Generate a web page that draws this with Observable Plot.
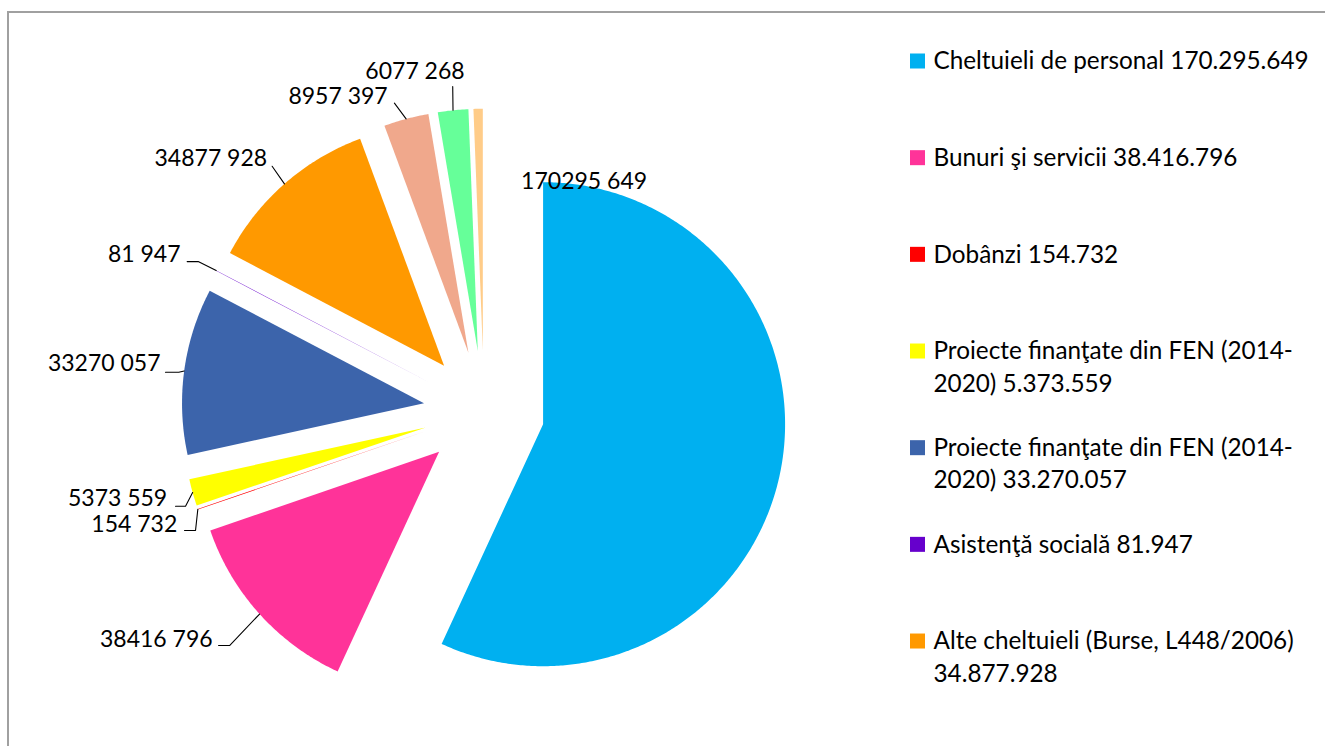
<!DOCTYPE html>
<html>
<head>
<meta charset="utf-8">
<script src="https://cdn.jsdelivr.net/npm/d3@7"></script>
<script src="https://cdn.jsdelivr.net/npm/@observablehq/plot@0.6"></script>
<style>
  html, body { margin: 0; padding: 0; background: #fff; overflow: hidden; }
  #wrap { position: relative; width: 1325px; height: 746px; overflow: hidden; }
  #frame { position: absolute; left: 7px; top: 11px; width: 1500px; height: 900px;
           border-left: 2px solid #a0a0a0; border-top: 2px solid #a0a0a0; pointer-events: none; }
</style>
</head>
<body>
<div id="wrap"><div id="chart"></div><div id="frame"></div></div>
<script>
// ---- data ----
const values = [170295649, 38416796, 154732, 5373559, 33270057, 81947, 34877928, 8957397, 6077268, 1850000];
const colors = ["#00B0F0", "#FF3399", "#FF0000", "#FFFF00", "#3C64AB", "#6600CC", "#FF9900", "#F0A88C", "#66FF99", "#FFCC88"];
const legendNames = [
  "Cheltuieli de personal",
  "Bunuri şi servicii",
  "Dobânzi",
  "Proiecte finanţate din FEN (2014-\n2020)",
  "Proiecte finanţate din FEN (2014-\n2020)",
  "Asistenţă socială",
  "Alte cheltuieli (Burse, L448/2006)\n"
];

// ---- layout ----
const W = 1325, H = 746;
const cx = 483.5, cy = 410.7, R = 242, explode = 60.5;
const FONT = "Lato, 'Open Sans', sans-serif", FS = 23, LFS = 24.3;
// label placement: point on slice arc (fraction "at"), leader bend, horizontal hook, text offset
const labelLayout = [
  {at: 0,  text: [41, -2], anchor: "middle"},
  {at: .5, bend: [-30, 31.5], hook: -11, text: [-6, -7.3], anchor: "end"},
  {at: .5, bend: [-2.3, 21.3], hook: -11, text: [-7.3, -6.7], anchor: "end"},
  {at: .5, bend: [-7.1, 13.75], hook: -10, text: [-8.3, -9], anchor: "end"},
  {at: .5, bend: [-5.4, 1.3], hook: -13.3, text: [-5, -9.7], anchor: "end"},
  {at: .5, bend: [-18, -9], hook: -11, text: [-6.7, -8.2], anchor: "end"},
  {at: .5, bend: [-12.3, -17.6], text: [-5, -9], anchor: "end"},
  {at: .5, bend: [-11.7, -15.7], text: [-6.7, -7.7], anchor: "end"},
  {at: .5, bend: [-0.3, -23.8], text: [-37.7, -16.3], anchor: "middle"},
  null
];
const legendLeft = 910, legendSwatch = 15, legendTextX = 933, legendTop = 60, legendStep = 96.67, legendLine = 32.5;

// ---- geometry ----
const arcs = d3.pie().sort(null).value(d => d)(values);
const slices = arcs.map((a, i) => {
  const mid = (a.startAngle + a.endAngle) / 2;
  return {i, a0: a.startAngle, a1: a.endAngle, value: values[i], color: colors[i],
          ax: cx + explode * Math.sin(mid), ay: cy - explode * Math.cos(mid)};
});
const onArc = (s, t) => [s.ax + R * Math.sin(t), s.ay - R * Math.cos(t)];
const slicePts = slices.flatMap(s => {
  const n = Math.max(2, Math.ceil((s.a1 - s.a0) / (Math.PI / 360)));
  const pts = [{i: s.i, color: s.color, x: s.ax, y: s.ay}];
  for (let k = 0; k <= n; k++) {
    const [x, y] = onArc(s, s.a0 + (s.a1 - s.a0) * k / n);
    pts.push({i: s.i, color: s.color, x, y});
  }
  return pts;
});

const fmtLabel = v => { const s = String(v); return s.length > 3 ? s.slice(0, -3) + " " + s.slice(-3) : s; };
const leaders = [], labels = [];
slices.forEach((s, i) => {
  const L = labelLayout[i];
  if (!L) return;
  let [x, y] = onArc(s, s.a0 + L.at * (s.a1 - s.a0));
  if (L.bend) {
    leaders.push({i, x, y});
    x += L.bend[0]; y += L.bend[1];
    leaders.push({i, x, y});
    if (L.hook) { x += L.hook; leaders.push({i, x, y}); }
  }
  labels.push({x: x + L.text[0], y: y + L.text[1] + 1, text: fmtLabel(s.value), anchor: L.anchor});
});

const fmtLegend = d3.formatLocale({decimal: ",", thousands: ".", grouping: [3], currency: ["", ""]}).format(",");
const legendSwatches = [], legendTexts = [];
legendNames.forEach((name, i) => {
  const yc = legendTop + i * legendStep;
  const full = name.endsWith("\n") ? name + fmtLegend(values[i]) : name + " " + fmtLegend(values[i]);
  legendSwatches.push({color: colors[i], x1: legendLeft, x2: legendLeft + legendSwatch,
                       y1: yc - legendSwatch / 2 + 1, y2: yc + legendSwatch / 2 + 1});
  full.split("\n").forEach((line, li) => legendTexts.push({x: legendTextX, y: yc + li * legendLine + 1, text: line}));
});

// ---- plot ----
const chart = Plot.plot({
  width: W, height: H, margin: 0,
  x: {domain: [0, W], axis: null},
  y: {domain: [0, H], reverse: true, axis: null},
  color: {type: "identity"},
  style: {fontFamily: FONT, fontSize: FS + "px", background: "#fff", color: "#000"},
  marks: [
    Plot.line(slicePts, {x: "x", y: "y", z: "i", fill: "color", stroke: "none", curve: "linear-closed"}),
    Plot.line(leaders, {x: "x", y: "y", z: "i", stroke: "#000", strokeWidth: 1.1}),
    Plot.text(labels.filter(d => d.anchor === "end"), {x: "x", y: "y", text: "text", textAnchor: "end", fontSize: FS, fontFamily: FONT, fill: "#000"}),
    Plot.text(labels.filter(d => d.anchor === "middle"), {x: "x", y: "y", text: "text", textAnchor: "middle", fontSize: FS, fontFamily: FONT, fill: "#000"}),
    Plot.rect(legendSwatches, {x1: "x1", x2: "x2", y1: "y1", y2: "y2", fill: "color"}),
    Plot.text(legendTexts, {x: "x", y: "y", text: "text", textAnchor: "start", fontSize: LFS, fontFamily: FONT, fill: "#000"})
  ]
});
document.getElementById("chart").appendChild(chart);
</script>
</body>
</html>
